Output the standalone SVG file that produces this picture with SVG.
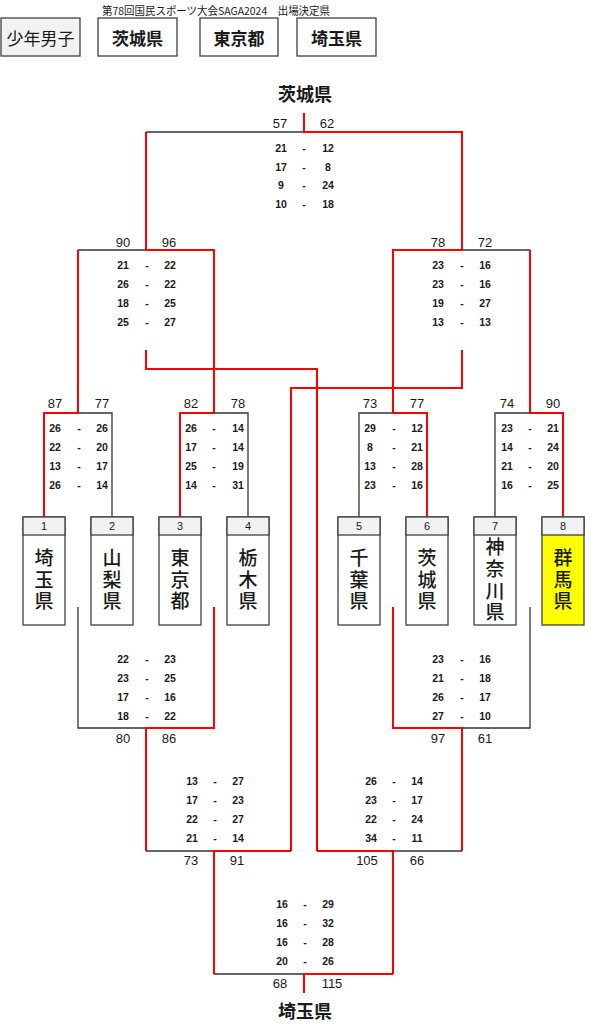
<svg xmlns="http://www.w3.org/2000/svg" width="594" height="1024" viewBox="0 0 594 1024">
<style>
text{font-family:"Liberation Sans","Noto Sans CJK JP",sans-serif;fill:#1a1a1a;text-anchor:middle;dominant-baseline:central}
.jp{font-family:"Noto Sans CJK JP","Liberation Sans",sans-serif}
.title{font-size:11px}
.hdr{font-size:17px;font-weight:bold}
.lbl{font-size:18px;font-weight:bold}
.num{font-size:13px}
.sc{font-size:10.5px;font-weight:bold}
.seed{font-size:11px}
.team{font-size:19px;font-weight:500;writing-mode:vertical-rl;letter-spacing:2.5px}
.box{fill:#fff;stroke:#404040;stroke-width:1.3}
.hd{fill:#f2f2f2;stroke:#404040;stroke-width:1.3}
.r{stroke:#ff0000;stroke-width:2;fill:none}
.k{stroke:#333;stroke-width:1.3;fill:none}
</style>

<g id="title"><text class="title jp" x="216" y="10" textLength="228" lengthAdjust="spacingAndGlyphs">第78回国民スポーツ大会SAGA2024　出場決定県</text></g>
<g id="hdr-category"><rect x="1" y="18" width="79" height="38" fill="#f2f2f2" stroke="#404040" stroke-width="1.3"/><text class="jp" x="40.5" y="37" font-size="17">少年男子</text></g>
<g id="hdr-ibaraki"><rect class="box" x="98" y="18" width="79" height="38"/><text class="hdr jp" x="137.5" y="37">茨城県</text></g>
<g id="hdr-tokyo"><rect class="box" x="200" y="18" width="78" height="38"/><text class="hdr jp" x="239" y="37">東京都</text></g>
<g id="hdr-saitama"><rect class="box" x="297" y="18" width="79" height="38"/><text class="hdr jp" x="336.5" y="37">埼玉県</text></g>

<g id="connectors">
<path class="k" d="M146,132H304"/>
<path class="r" d="M304,113V132H462V250M146,132V250"/>
<path class="k" d="M78,250H146"/>
<path class="r" d="M146,250H214V413M78,250V413"/>
<path class="k" d="M462,250H530"/>
<path class="r" d="M462,250H393V413M530,250V413"/>
<path class="r" d="M146,350V369H317V851"/>
<path class="r" d="M462,350V388H291V851"/>
<path class="k" d="M78,413H112V517"/>
<path class="r" d="M78,413H44V517"/>
<path class="k" d="M214,413H248V517"/>
<path class="r" d="M214,413H180V517"/>
<path class="k" d="M393,413H359V517"/>
<path class="r" d="M393,413H427V517"/>
<path class="k" d="M530,413H495V517"/>
<path class="r" d="M530,413H563V517"/>
<path class="k" d="M78,607V728H146"/>
<path class="r" d="M214,607V728H146V851"/>
<path class="r" d="M393,607V728H462V851"/>
<path class="k" d="M530,607V728H462"/>
<path class="k" d="M146,851H214"/>
<path class="r" d="M291,851H214V974"/>
<path class="r" d="M317,851H393V974"/>
<path class="k" d="M393,851H462"/>
<path class="k" d="M214,974H304"/>
<path class="r" d="M393,974H304V993"/>
</g>

<g id="label-top"><text class="lbl jp" x="305" y="93">茨城県</text></g>
<g id="label-bottom"><text class="lbl jp" x="305" y="1010">埼玉県</text></g>

<g id="team-1"><rect class="box" x="23" y="517" width="42" height="108"/><rect class="hd" x="23" y="517" width="42" height="18"/><text class="seed" x="44" y="526">1</text><text class="team jp" x="44" y="581">埼玉県</text></g>
<g id="team-2"><rect class="box" x="91" y="517" width="42" height="108"/><rect class="hd" x="91" y="517" width="42" height="18"/><text class="seed" x="112" y="526">2</text><text class="team jp" x="112" y="581">山梨県</text></g>
<g id="team-3"><rect class="box" x="159" y="517" width="42" height="108"/><rect class="hd" x="159" y="517" width="42" height="18"/><text class="seed" x="180" y="526">3</text><text class="team jp" x="180" y="581">東京都</text></g>
<g id="team-4"><rect class="box" x="227" y="517" width="42" height="108"/><rect class="hd" x="227" y="517" width="42" height="18"/><text class="seed" x="248" y="526">4</text><text class="team jp" x="248" y="581">栃木県</text></g>
<g id="team-5"><rect class="box" x="338" y="517" width="42" height="108"/><rect class="hd" x="338" y="517" width="42" height="18"/><text class="seed" x="359" y="526">5</text><text class="team jp" x="359" y="581">千葉県</text></g>
<g id="team-6"><rect class="box" x="406" y="517" width="42" height="108"/><rect class="hd" x="406" y="517" width="42" height="18"/><text class="seed" x="427" y="526">6</text><text class="team jp" x="427" y="581">茨城県</text></g>
<g id="team-7"><rect class="box" x="474" y="517" width="42" height="108"/><rect class="hd" x="474" y="517" width="42" height="18"/><text class="seed" x="495" y="526">7</text><text class="team jp" x="495" y="581" style="letter-spacing:2.7px">神奈川県</text></g>
<g id="team-8"><rect class="box" x="542" y="517" width="42" height="108" style="fill:#ffff00"/><rect class="hd" x="542" y="517" width="42" height="18"/><text class="seed" x="563" y="526">8</text><text class="team jp" x="563" y="581">群馬県</text></g>

<g id="match-final-top">
<text class="num" x="280" y="123">57</text><text class="num" x="327" y="123">62</text>
<text class="sc" x="281" y="148">21</text><text class="sc" x="304" y="148">-</text><text class="sc" x="328" y="148">12</text>
<text class="sc" x="281" y="167">17</text><text class="sc" x="304" y="167">-</text><text class="sc" x="328" y="167">8</text>
<text class="sc" x="281" y="185">9</text><text class="sc" x="304" y="185">-</text><text class="sc" x="328" y="185">24</text>
<text class="sc" x="281" y="204">10</text><text class="sc" x="304" y="204">-</text><text class="sc" x="328" y="204">18</text>
</g>
<g id="match-semi-left">
<text class="num" x="123" y="242">90</text><text class="num" x="169" y="242">96</text>
<text class="sc" x="123" y="265">21</text><text class="sc" x="147" y="265">-</text><text class="sc" x="170" y="265">22</text>
<text class="sc" x="123" y="284">26</text><text class="sc" x="147" y="284">-</text><text class="sc" x="170" y="284">22</text>
<text class="sc" x="123" y="303">18</text><text class="sc" x="147" y="303">-</text><text class="sc" x="170" y="303">25</text>
<text class="sc" x="123" y="322">25</text><text class="sc" x="147" y="322">-</text><text class="sc" x="170" y="322">27</text>
</g>
<g id="match-semi-right">
<text class="num" x="438" y="242">78</text><text class="num" x="485" y="242">72</text>
<text class="sc" x="438" y="265">23</text><text class="sc" x="462" y="265">-</text><text class="sc" x="485" y="265">16</text>
<text class="sc" x="438" y="284">23</text><text class="sc" x="462" y="284">-</text><text class="sc" x="485" y="284">16</text>
<text class="sc" x="438" y="303">19</text><text class="sc" x="462" y="303">-</text><text class="sc" x="485" y="303">27</text>
<text class="sc" x="438" y="322">13</text><text class="sc" x="462" y="322">-</text><text class="sc" x="485" y="322">13</text>
</g>
<g id="match-r1-1">
<text class="num" x="55" y="403">87</text><text class="num" x="102" y="403">77</text>
<text class="sc" x="55" y="428">26</text><text class="sc" x="79" y="428">-</text><text class="sc" x="102" y="428">26</text>
<text class="sc" x="55" y="447">22</text><text class="sc" x="79" y="447">-</text><text class="sc" x="102" y="447">20</text>
<text class="sc" x="55" y="466">13</text><text class="sc" x="79" y="466">-</text><text class="sc" x="102" y="466">17</text>
<text class="sc" x="55" y="485">26</text><text class="sc" x="79" y="485">-</text><text class="sc" x="102" y="485">14</text>
</g>
<g id="match-r1-2">
<text class="num" x="191" y="403">82</text><text class="num" x="238" y="403">78</text>
<text class="sc" x="191" y="428">26</text><text class="sc" x="214" y="428">-</text><text class="sc" x="238" y="428">14</text>
<text class="sc" x="191" y="447">17</text><text class="sc" x="214" y="447">-</text><text class="sc" x="238" y="447">14</text>
<text class="sc" x="191" y="466">25</text><text class="sc" x="214" y="466">-</text><text class="sc" x="238" y="466">19</text>
<text class="sc" x="191" y="485">14</text><text class="sc" x="214" y="485">-</text><text class="sc" x="238" y="485">31</text>
</g>
<g id="match-r1-3">
<text class="num" x="370" y="403">73</text><text class="num" x="417" y="403">77</text>
<text class="sc" x="370" y="428">29</text><text class="sc" x="394" y="428">-</text><text class="sc" x="417" y="428">12</text>
<text class="sc" x="370" y="447">8</text><text class="sc" x="394" y="447">-</text><text class="sc" x="417" y="447">21</text>
<text class="sc" x="370" y="466">13</text><text class="sc" x="394" y="466">-</text><text class="sc" x="417" y="466">28</text>
<text class="sc" x="370" y="485">23</text><text class="sc" x="394" y="485">-</text><text class="sc" x="417" y="485">16</text>
</g>
<g id="match-r1-4">
<text class="num" x="507" y="403">74</text><text class="num" x="553" y="403">90</text>
<text class="sc" x="507" y="428">23</text><text class="sc" x="530" y="428">-</text><text class="sc" x="553" y="428">21</text>
<text class="sc" x="507" y="447">14</text><text class="sc" x="530" y="447">-</text><text class="sc" x="553" y="447">24</text>
<text class="sc" x="507" y="466">21</text><text class="sc" x="530" y="466">-</text><text class="sc" x="553" y="466">20</text>
<text class="sc" x="507" y="485">16</text><text class="sc" x="530" y="485">-</text><text class="sc" x="553" y="485">25</text>
</g>
<g id="match-lower-left">
<text class="sc" x="123" y="659">22</text><text class="sc" x="147" y="659">-</text><text class="sc" x="170" y="659">23</text>
<text class="sc" x="123" y="678">23</text><text class="sc" x="147" y="678">-</text><text class="sc" x="170" y="678">25</text>
<text class="sc" x="123" y="697">17</text><text class="sc" x="147" y="697">-</text><text class="sc" x="170" y="697">16</text>
<text class="sc" x="123" y="716">18</text><text class="sc" x="147" y="716">-</text><text class="sc" x="170" y="716">22</text>
<text class="num" x="123" y="738">80</text><text class="num" x="169" y="738">86</text>
</g>
<g id="match-lower-right">
<text class="sc" x="438" y="659">23</text><text class="sc" x="462" y="659">-</text><text class="sc" x="485" y="659">16</text>
<text class="sc" x="438" y="678">21</text><text class="sc" x="462" y="678">-</text><text class="sc" x="485" y="678">18</text>
<text class="sc" x="438" y="697">26</text><text class="sc" x="462" y="697">-</text><text class="sc" x="485" y="697">17</text>
<text class="sc" x="438" y="716">27</text><text class="sc" x="462" y="716">-</text><text class="sc" x="485" y="716">10</text>
<text class="num" x="438" y="738">97</text><text class="num" x="485" y="738">61</text>
</g>
<g id="match-mid-left">
<text class="sc" x="192" y="781">13</text><text class="sc" x="215" y="781">-</text><text class="sc" x="238" y="781">27</text>
<text class="sc" x="192" y="800">17</text><text class="sc" x="215" y="800">-</text><text class="sc" x="238" y="800">23</text>
<text class="sc" x="192" y="819">22</text><text class="sc" x="215" y="819">-</text><text class="sc" x="238" y="819">27</text>
<text class="sc" x="192" y="838">21</text><text class="sc" x="215" y="838">-</text><text class="sc" x="238" y="838">14</text>
<text class="num" x="191" y="860">73</text><text class="num" x="237" y="860">91</text>
</g>
<g id="match-mid-right">
<text class="sc" x="371" y="781">26</text><text class="sc" x="394" y="781">-</text><text class="sc" x="417" y="781">14</text>
<text class="sc" x="371" y="800">23</text><text class="sc" x="394" y="800">-</text><text class="sc" x="417" y="800">17</text>
<text class="sc" x="371" y="819">22</text><text class="sc" x="394" y="819">-</text><text class="sc" x="417" y="819">24</text>
<text class="sc" x="371" y="838">34</text><text class="sc" x="394" y="838">-</text><text class="sc" x="417" y="838">11</text>
<text class="num" x="367" y="860">105</text><text class="num" x="417" y="860">66</text>
</g>
<g id="match-final-bottom">
<text class="sc" x="282" y="904">16</text><text class="sc" x="305" y="904">-</text><text class="sc" x="328" y="904">29</text>
<text class="sc" x="282" y="923">16</text><text class="sc" x="305" y="923">-</text><text class="sc" x="328" y="923">32</text>
<text class="sc" x="282" y="942">16</text><text class="sc" x="305" y="942">-</text><text class="sc" x="328" y="942">28</text>
<text class="sc" x="282" y="961">20</text><text class="sc" x="305" y="961">-</text><text class="sc" x="328" y="961">26</text>
<text class="num" x="280" y="983">68</text><text class="num" x="332" y="983">115</text>
</g>
</svg>
